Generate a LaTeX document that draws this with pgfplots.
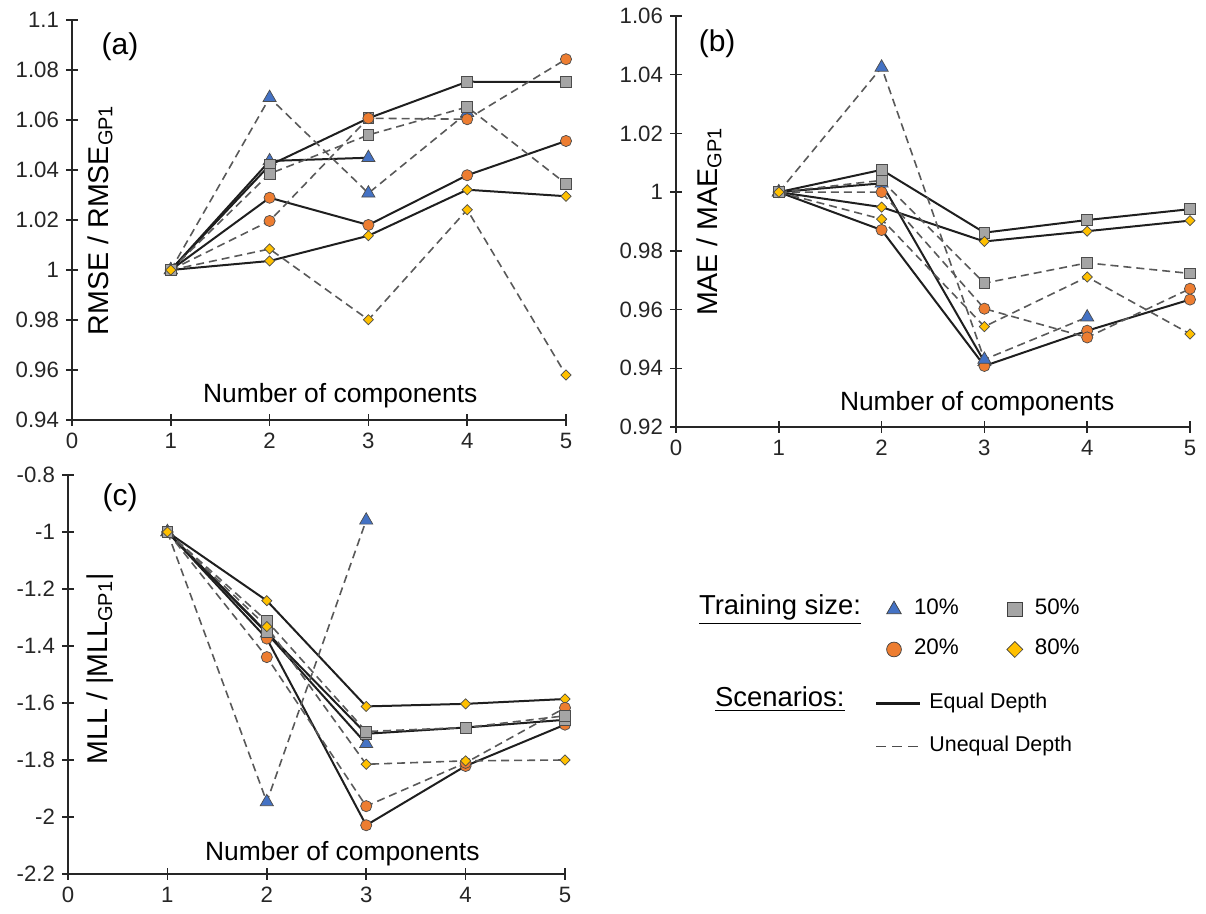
\documentclass[border=0pt]{standalone}
\usepackage{fontspec}
\setmainfont{Liberation Sans}
\setsansfont{Liberation Sans}
\usepackage{pgfplots}
\pgfplotsset{compat=1.18}
\definecolor{c10}{RGB}{68,114,196}
\definecolor{c20}{RGB}{237,125,49}
\definecolor{c50}{RGB}{165,165,165}
\definecolor{c80}{RGB}{255,192,0}
\pgfplotsset{
  panel/.style={scale only axis, axis x line=bottom, axis y line=left,
    axis line style={-, line width=0.75pt, black!85},
    tick align=center, major tick length=6pt,
    tick style={line width=0.75pt, black!85},
    xmin=0, xmax=5, xtick={0,1,2,3,4,5}, xticklabels={0,1,2,3,4,5},
    scaled ticks=false,
    ticklabel style={font=\fontsize{11.1}{13}\selectfont, text=black!85},
    clip=false},
  eq/.style={draw=black!88, line width=1pt, solid},
  uq/.style={draw=black!65, line width=0.8pt, dash pattern=on 4pt off 2.5pt},
  m10/.style={mark=triangle*, mark size=3.8pt, mark options={solid, draw=black!70, line width=0.35pt, fill=c10}},
  m20/.style={mark=*, mark size=2.8pt, mark options={solid, draw=black!70, line width=0.35pt, fill=c20}},
  m50/.style={mark=square*, mark size=2.7pt, mark options={solid, draw=black!70, line width=0.35pt, fill=c50}},
  m80/.style={mark=square*, mark size=1.8pt, mark options={solid, rotate=45, draw=black!70, line width=0.35pt, fill=c80}},
}
\begin{document}
\begin{tikzpicture}
\useasboundingbox (0,0) rectangle (603pt,457pt);
% ---------------- (a) RMSE ----------------
\begin{axis}[panel, at={(36pt,247pt)}, anchor=south west, width=247pt, height=200pt,
  ymin=0.94, ymax=1.1, ytick={0.94,0.96,0.98,1,1.02,1.04,1.06,1.08,1.1},
  yticklabels={0.94,0.96,0.98,1,1.02,1.04,1.06,1.08,1.1}]
\addplot[eq, m10] coordinates {(1,1) (2,1.0436) (3,1.0449)};
\addplot[eq, m20] coordinates {(1,1) (2,1.0289) (3,1.0180) (4,1.0379) (5,1.0516)};
\addplot[eq, m50] coordinates {(1,1) (2,1.0419) (3,1.0607) (4,1.0753) (5,1.0752)};
\addplot[eq, m80] coordinates {(1,1) (2,1.0036) (3,1.0137) (4,1.0321) (5,1.0295)};
\addplot[uq, m10] coordinates {(1,1) (2,1.0689) (3,1.0307) (4,1.0629)};
\addplot[uq, m20] coordinates {(1,1) (2,1.0196) (3,1.0607) (4,1.0603) (5,1.0843)};
\addplot[uq, m50] coordinates {(1,1) (2,1.0385) (3,1.0540) (4,1.0652) (5,1.0345)};
\addplot[uq, m80] coordinates {(1,1) (2,1.0084) (3,0.9801) (4,1.0241) (5,0.9580)};
\node[rotate=90, anchor=base, font=\fontsize{14.3}{17}\selectfont] at (axis description cs:0.073,0.5) {RMSE / RMSE\textsubscript{GP1}};
\node[anchor=base, font=\fontsize{13.2}{16}\selectfont] at (axis description cs:0.543,0.0425) {Number of components};
\node[font=\fontsize{15}{18}\selectfont] at (axis description cs:0.097,0.933) {(a)};
\end{axis}
% ---------------- (b) MAE ----------------
\begin{axis}[panel, at={(338pt,243.5pt)}, anchor=south west, width=257pt, height=205.5pt,
  ymin=0.92, ymax=1.06, ytick={0.92,0.94,0.96,0.98,1,1.02,1.04,1.06},
  yticklabels={0.92,0.94,0.96,0.98,1,1.02,1.04,1.06}]
\addplot[eq, m10] coordinates {(1,1) (2,1.0030) (3,0.9422)};
\addplot[eq, m20] coordinates {(1,1) (2,0.9871) (3,0.9408) (4,0.9528) (5,0.9634)};
\addplot[eq, m50] coordinates {(1,1) (2,1.0076) (3,0.9862) (4,0.9905) (5,0.9942)};
\addplot[eq, m80] coordinates {(1,1) (2,0.9949) (3,0.9832) (4,0.9867) (5,0.9903)};
\addplot[uq, m10] coordinates {(1,1) (2,1.0425) (3,0.9430) (4,0.9574)};
\addplot[uq, m20] coordinates {(1,1) (2,1.0000) (3,0.9603) (4,0.9505) (5,0.9671)};
\addplot[uq, m50] coordinates {(1,1) (2,1.0040) (3,0.9690) (4,0.9759) (5,0.9723)};
\addplot[uq, m80] coordinates {(1,1) (2,0.9908) (3,0.9542) (4,0.9711) (5,0.9517)};
\node[rotate=90, anchor=base, font=\fontsize{14.3}{17}\selectfont] at (axis description cs:0.08,0.5) {MAE / MAE\textsubscript{GP1}};
\node[anchor=base, font=\fontsize{13.2}{16}\selectfont] at (axis description cs:0.586,0.041) {Number of components};
\node[font=\fontsize{15}{18}\selectfont] at (axis description cs:0.08,0.932) {(b)};
\end{axis}
% ---------------- (c) MLL ----------------
\begin{axis}[panel, at={(34pt,20pt)}, anchor=south west, width=248.5pt, height=199.5pt,
  ymin=-2.2, ymax=-0.8, ytick={-2.2,-2,-1.8,-1.6,-1.4,-1.2,-1,-0.8},
  yticklabels={-2.2,-2,-1.8,-1.6,-1.4,-1.2,-1,-0.8}]
\addplot[eq, m10] coordinates {(1,-1) (2,-1.355) (3,-1.743)};
\addplot[eq, m20] coordinates {(1,-1) (2,-1.374) (3,-2.029) (4,-1.821) (5,-1.676)};
\addplot[eq, m50] coordinates {(1,-1) (2,-1.352) (3,-1.708) (4,-1.686) (5,-1.659)};
\addplot[eq, m80] coordinates {(1,-1) (2,-1.241) (3,-1.612) (4,-1.603) (5,-1.586)};
\addplot[uq, m10] coordinates {(1,-1) (2,-1.947) (3,-0.959)};
\addplot[uq, m20] coordinates {(1,-1) (2,-1.439) (3,-1.962) (4,-1.810) (5,-1.617)};
\addplot[uq, m50] coordinates {(1,-1) (2,-1.312) (3,-1.700) (4,-1.686) (5,-1.645)};
\addplot[uq, m80] coordinates {(1,-1) (2,-1.332) (3,-1.815) (4,-1.803) (5,-1.800)};
\node[rotate=90, anchor=base, font=\fontsize{14.3}{17}\selectfont] at (axis description cs:0.08,0.514) {MLL / |MLL\textsubscript{GP1}|};
\node[anchor=base, font=\fontsize{13.2}{16}\selectfont] at (axis description cs:0.552,0.035) {Number of components};
\node[font=\fontsize{15}{18}\selectfont] at (axis description cs:0.105,0.942) {(c)};
\end{axis}
% ---------------- legends ----------------
\node[anchor=base west, font=\fontsize{13.7}{16}\selectfont] at (346pt,149.5pt) {\underline{Training size:}};
\node[anchor=base west, font=\fontsize{13.7}{16}\selectfont] at (354pt,103.5pt) {\underline{Scenarios:}};
\begin{axis}[hide axis, scale only axis, width=10pt, height=10pt, xmin=0, xmax=1, ymin=0, ymax=1,
  at={(442pt,149pt)}, anchor=origin,
  legend style={draw=none, fill=none, at={(0,1)}, anchor=north west, inner sep=0pt, outer sep=0pt,
    legend columns=2, font=\fontsize{11.2}{13}\selectfont,
    nodes={inner sep=2pt, text height=0.75em, text depth=0.2em},
    /tikz/every even column/.append style={column sep=21pt}, row sep=6.5pt},
  legend cell align=left,
  legend image code/.code={\path[draw=none, fill=none] (-5pt,-5pt) rectangle (8pt,5pt); \draw[#1] plot coordinates {(0pt,0pt)};}]
\addlegendimage{only marks, mark=triangle*, mark size=4.2pt, mark options={draw=black!75, line width=0.35pt, fill=c10}}
\addlegendentry{10\%}
\addlegendimage{only marks, mark=square*, mark size=3.6pt, mark options={draw=black!75, line width=0.35pt, fill=c50}}
\addlegendentry{50\%}
\addlegendimage{only marks, mark=*, mark size=3.7pt, mark options={draw=black!75, line width=0.35pt, fill=c20}}
\addlegendentry{20\%}
\addlegendimage{only marks, mark=square*, mark size=2.8pt, mark options={rotate=45, draw=black!75, line width=0.35pt, fill=c80}}
\addlegendentry{80\%}
\end{axis}
\begin{axis}[hide axis, scale only axis, width=10pt, height=10pt, xmin=0, xmax=1, ymin=0, ymax=1,
  at={(437.5pt,102pt)}, anchor=origin,
  legend style={draw=none, fill=none, at={(0,1)}, anchor=north west, inner sep=0pt, outer sep=0pt,
    legend columns=1, font=\fontsize{10.7}{13}\selectfont,
    nodes={inner sep=2pt, text height=0.75em, text depth=0.2em}, row sep=8pt},
  legend cell align=left,
  legend image code/.code={\path[draw=none, fill=none] (0pt,-5pt) rectangle (24.5pt,5pt); \draw[#1] (0pt,0pt) -- (22pt,0pt);}]
\addlegendimage{draw=black!90, line width=1.4pt}
\addlegendentry{Equal Depth}
\addlegendimage{draw=black!70, line width=0.8pt, dash pattern=on 5pt off 3pt}
\addlegendentry{Unequal Depth}
\end{axis}
\end{tikzpicture}
\end{document}
